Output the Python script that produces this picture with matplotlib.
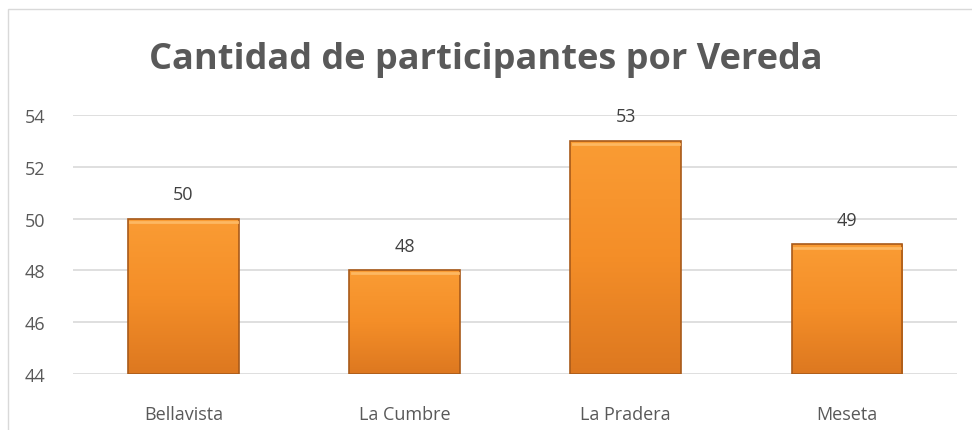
import numpy as np
import matplotlib
matplotlib.use("Agg")
import matplotlib.pyplot as plt
from matplotlib.patches import Rectangle

veredas = ["Bellavista", "La Cumbre", "La Pradera", "Meseta"]
participantes = [50, 48, 53, 49]
y_ticks = [44, 46, 48, 50, 52, 54]

plt.rcParams['font.family'] = ['Open Sans', 'DejaVu Sans']
grey = "#595959"

fig = plt.figure(figsize=(9.72, 4.31), dpi=100)
ax = fig.add_axes([0.075, 0.130, 0.910, 0.601])

x = np.arange(len(veredas))
bars = ax.bar(x, participantes, width=0.5, bottom=0, color="none", edgecolor="none")
ax.set_xlim(-0.5, len(veredas) - 0.5)
ax.set_ylim(44, 54)

# vertical gradient orange fill for each bar
grad = np.linspace(0, 1, 256).reshape(-1, 1)
cmap = matplotlib.colors.LinearSegmentedColormap.from_list("o", ["#DD7820", "#F48E28", "#FA9C34"])
for b in bars:
    x0, w, h = b.get_x(), b.get_width(), b.get_height()
    im = ax.imshow(grad, extent=[x0, x0 + w, 44, h], origin="lower", aspect="auto",
                   cmap=cmap, zorder=2)
    r = Rectangle((x0, 44), w, h - 44, facecolor="none", edgecolor="#A85A1A", linewidth=1.2, zorder=3)
    ax.add_patch(r)
    im.set_clip_path(r)
    # light bevel along the top
    ax.plot([x0 + 0.01, x0 + w - 0.01], [h - 0.12, h - 0.12], color="#FDB862", lw=2, zorder=3)
    ax.text(x0 + w / 2, h + 0.6, str(int(h)), ha="center", va="bottom", fontsize=13, color="#404040")

ax.set_yticks(y_ticks)
ax.set_xticks(x)
ax.set_xticklabels(veredas)
ax.tick_params(axis="both", length=0, labelsize=13, colors=grey)
ax.tick_params(axis="x", pad=22)
ax.tick_params(axis="y", pad=20)
ax.yaxis.grid(True, color="#D9D9D9", linewidth=1.2)
ax.set_axisbelow(True)
for s in ax.spines.values():
    s.set_visible(False)

fig.text(0.5, 0.861, "Cantidad de participantes por Vereda", ha="center", va="center",
         fontsize=26, fontweight="bold", color=grey)

# chart border
fig.patches.append(Rectangle((8 / 972, -0.1), 1, 1.1 - 10 / 431, transform=fig.transFigure,
                             facecolor="none", edgecolor="#D9D9D9", linewidth=1))

fig.savefig("out.png", dpi=100)
